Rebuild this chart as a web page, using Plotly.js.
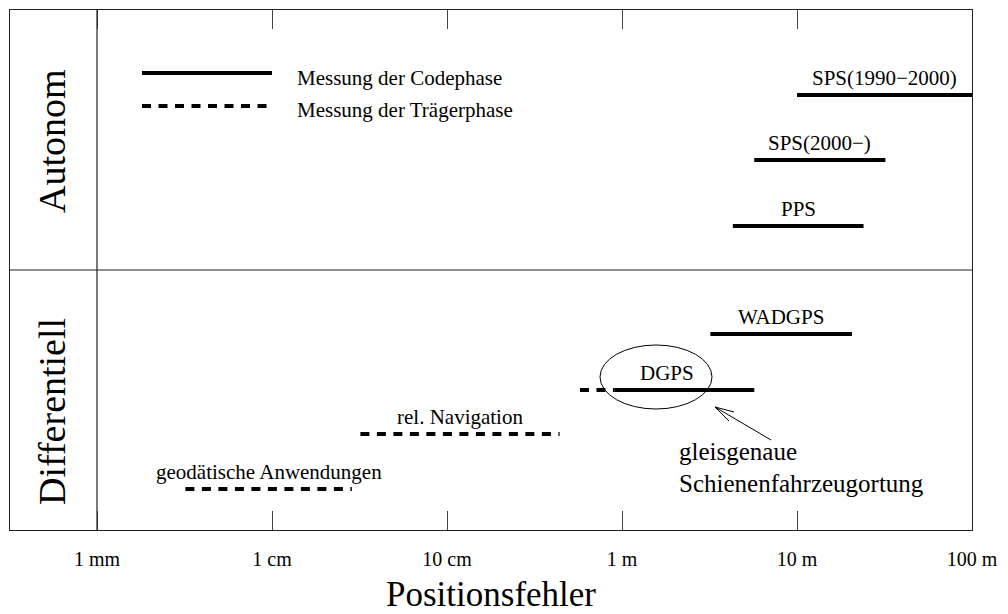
<!DOCTYPE html>
<html>
<head>
<meta charset="utf-8">
<script src="https://cdn.plot.ly/plotly-3.0.1.min.js"></script>
<style>html,body{margin:0;padding:0;background:#fff;}#chart{width:1008px;height:614px;}</style>
</head>
<body>
<div id="chart"></div>
<script>
// ---- data (position error ranges in metres) ----
const systems    = ['SPS(1990−2000)', 'SPS(2000−)', 'PPS', 'WADGPS', 'DGPS', 'rel. Navigation', 'geodätische Anwendungen'];
const codeMin    = [10, 5.7, 4.3, 3.2, 0.91, null, null];
const codeMax    = [100, 32, 24, 20.6, 5.7, null, null];
const carrierMin = [null, null, null, null, 0.575, 0.032, 0.0032];
const carrierMax = [null, null, null, null, 0.91, 0.44, 0.0286];
const rowLevel   = [1.673, 1.423, 1.169, 0.754, 0.538, 0.369, 0.158];
const rowNames   = ['Autonom', 'Differentiell'];
const tickVals   = [0.001, 0.01, 0.1, 1, 10, 100];
const tickLabels = ['1 mm', '1 cm', '10 cm', '1 m', '10 m', '100 m'];
const legendText = ['Messung der Codephase', 'Messung der Trägerphase'];
const noteLines  = ['gleisgenaue', 'Schienenfahrzeugortung'];

// ---- styling / layout helpers ----
const SERIF = 'Liberation Serif, Times New Roman, serif';
const W = 1008, H = 614, ML = 10, MR = 36, MT = 10, MB = 84;
const PW = W - ML - MR, PH = H - MT - MB;
const px = x => (x - ML) / PW;          // pixel -> paper x
const py = y => (MT + PH - y) / PH;     // pixel -> paper y
const DASH = '9px,7.5px';

const traces = [];
const annotations = [];
systems.forEach((name, i) => {
  const y = rowLevel[i];
  if (codeMin[i] !== null) {
    traces.push({type: 'scatter', mode: 'lines', x: [codeMin[i], codeMax[i]], y: [y, y],
      line: {color: '#000', width: 4}, hoverinfo: 'skip', showlegend: false});
  }
  if (carrierMin[i] !== null) {
    traces.push({type: 'scatter', mode: 'lines', x: [carrierMin[i], carrierMax[i]], y: [y, y],
      line: {color: '#000', width: 4, dash: DASH}, hoverinfo: 'skip', showlegend: false});
  }
  const lo = Math.min(...[codeMin[i], carrierMin[i]].filter(v => v !== null));
  const hi = Math.max(...[codeMax[i], carrierMax[i]].filter(v => v !== null));
  annotations.push({x: (Math.log10(lo) + Math.log10(hi)) / 2, y: y, xref: 'x', yref: 'y',
    text: name, showarrow: false, yshift: 17, xanchor: 'center', yanchor: 'middle',
    font: {family: SERIF, size: 21, color: '#000'}});
});

// row labels
annotations.push({x: px(52), y: py(141), xref: 'paper', yref: 'paper', text: rowNames[0], textangle: -90,
  showarrow: false, xanchor: 'center', yanchor: 'middle', font: {family: SERIF, size: 38, color: '#000'}});
annotations.push({x: px(52), y: py(412), xref: 'paper', yref: 'paper', text: rowNames[1], textangle: -90,
  showarrow: false, xanchor: 'center', yanchor: 'middle', font: {family: SERIF, size: 38, color: '#000'}});

// legend texts
annotations.push({x: px(295), y: py(78), xref: 'paper', yref: 'paper', text: legendText[0],
  showarrow: false, xanchor: 'left', yanchor: 'middle', font: {family: SERIF, size: 21, color: '#000'}});
annotations.push({x: px(295), y: py(110), xref: 'paper', yref: 'paper', text: legendText[1],
  showarrow: false, xanchor: 'left', yanchor: 'middle', font: {family: SERIF, size: 21, color: '#000'}});

// note
annotations.push({x: px(677), y: py(451), xref: 'paper', yref: 'paper', text: noteLines[0],
  showarrow: false, xanchor: 'left', yanchor: 'middle', font: {family: SERIF, size: 25, color: '#000'}});
annotations.push({x: px(677), y: py(483), xref: 'paper', yref: 'paper', text: noteLines[1],
  showarrow: false, xanchor: 'left', yanchor: 'middle', font: {family: SERIF, size: 25, color: '#000'}});

const P = (x, y) => px(x) + ',' + py(y);
const shapes = [
  // column separator and row divider
  {type: 'line', xref: 'paper', yref: 'paper', x0: px(97), x1: px(97), y0: 0, y1: 1, line: {color: '#222', width: 1.2}},
  {type: 'line', xref: 'paper', yref: 'paper', x0: 0, x1: 1, y0: 0.5, y1: 0.5, line: {color: '#222', width: 1.2}},
  // legend samples
  {type: 'line', xref: 'paper', yref: 'paper', x0: px(142), x1: px(272), y0: py(73), y1: py(73), line: {color: '#000', width: 4}},
  {type: 'line', xref: 'paper', yref: 'paper', x0: px(142), x1: px(272), y0: py(106), y1: py(106), line: {color: '#000', width: 4, dash: DASH}},
  // ellipse around DGPS
  {type: 'circle', xref: 'paper', yref: 'paper', x0: px(600), x1: px(712), y0: py(409), y1: py(345), line: {color: '#000', width: 1}},
  // arrow
  {type: 'path', xref: 'paper', yref: 'paper', path: 'M' + P(771, 440) + 'L' + P(715, 407), line: {color: '#000', width: 1}},
  {type: 'path', xref: 'paper', yref: 'paper', path: 'M' + P(729, 421) + 'L' + P(715, 407) + 'L' + P(734, 412), line: {color: '#000', width: 1}}
];

const layout = {
  width: W, height: H,
  margin: {l: ML, r: MR, t: MT, b: MB, pad: 0},
  paper_bgcolor: '#fff', plot_bgcolor: '#fff',
  showlegend: false,
  font: {family: SERIF, color: '#000'},
  xaxis: {
    type: 'log', range: [-3 - 87 / 175, 2], fixedrange: true,
    showgrid: false, zeroline: false,
    showline: true, mirror: 'ticks', linecolor: '#222', linewidth: 1.2,
    ticks: 'inside', ticklen: 19, tickwidth: 1, tickcolor: '#444',
    tickvals: tickVals, ticktext: tickLabels,
    tickfont: {family: SERIF, size: 20, color: '#000'},
    ticklabelstandoff: 11,
    title: {text: 'Positionsfehler', font: {family: SERIF, size: 35, color: '#000'}, standoff: 16}
  },
  yaxis: {
    range: [0, 2], fixedrange: true,
    showgrid: false, zeroline: false, showticklabels: false, ticks: '',
    showline: true, mirror: true, linecolor: '#222', linewidth: 1.2
  },
  shapes: shapes,
  annotations: annotations
};

Plotly.newPlot('chart', traces, layout, {staticPlot: true, displayModeBar: false});
</script>
</body>
</html>
